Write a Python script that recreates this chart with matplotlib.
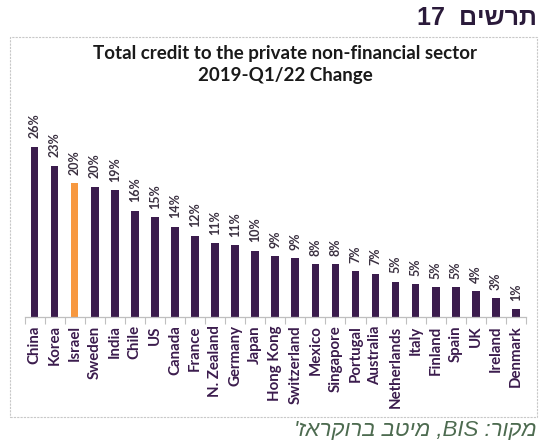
import matplotlib
matplotlib.use("Agg")
import matplotlib.pyplot as plt
from matplotlib.patches import Rectangle

countries = ["China", "Korea", "Israel", "Sweden", "India", "Chile", "US", "Canada",
             "France", "N. Zealand", "Germany", "Japan", "Hong Kong", "Switzerland",
             "Mexico", "Singapore", "Portugal", "Australia", "Netherlands", "Italy",
             "Finland", "Spain", "UK", "Ireland", "Denmark"]
values = [26.0, 23.1, 20.4, 19.9, 19.3, 16.2, 15.2, 13.8, 12.4, 11.3, 11.0, 10.1,
          9.3, 9.0, 8.1, 8.1, 7.0, 6.6, 5.4, 5.0, 4.6, 4.6, 3.9, 2.9, 1.2]
labels = ["26%", "23%", "20%", "20%", "19%", "16%", "15%", "14%", "12%", "11%", "11%", "10%",
          "9%", "9%", "8%", "8%", "7%", "7%", "5%", "5%", "5%", "5%", "4%", "3%", "1%"]
highlight = "Israel"

title1 = "Total credit to the private non-financial sector"
title2 = "2019-Q1/22 Change"
heb_title = "17  םישרת"          # visual order of "תרשים 17"
source = "'זארקורב בטימ ,BIS :רוקמ"  # visual order of "מקור: BIS, מיטב ברוקראז'"

W, H = 540, 443
fig = plt.figure(figsize=(W / 100, H / 100), dpi=100)
fig.patch.set_facecolor("white")

# frame box
fig.patches.append(Rectangle((10 / W, 1 - 417 / H), 527 / W, (417 - 37) / H,
                             transform=fig.transFigure, fill=False,
                             edgecolor="#c8c8c8", linewidth=0.8, linestyle=(0, (2, 1))))

purple = "#3b1c4d"
orange = "#f7983f"

ax = fig.add_axes([24.5 / W, 126 / H, (526 - 24.5) / W, 217 / H])
x = list(range(len(countries)))
colors = [orange if c == highlight else purple for c in countries]
ax.bar(x, values, width=0.38, color=colors, zorder=2)
ax.set_xlim(-0.5, len(countries) - 0.5)
ax.set_ylim(0, 33.1)

for xi, v, lab in zip(x, values, labels):
    ax.annotate(lab, (xi, v), xytext=(0, 6), textcoords="offset points",
                rotation=90, ha="center", va="bottom", fontsize=9,
                fontweight="bold", color="#3a3040", family="Lato")

for s in ["top", "right", "left"]:
    ax.spines[s].set_visible(False)
ax.spines["bottom"].set_color("#bfbfbf")
ax.spines["bottom"].set_linewidth(0.9)
ax.set_yticks([])
ax.set_xticks(x)
ax.set_xticklabels(countries, rotation=90, fontsize=10.8, fontweight="bold",
                   color=purple, family="Lato")
ax.tick_params(axis="x", which="major", length=0, pad=6)
ax.set_xticks([i - 0.5 for i in range(len(countries) + 1)], minor=True)
ax.tick_params(axis="x", which="minor", length=5, color="#bfbfbf", width=0.8)

fig.text(285 / W, 1 - 53 / H, title1, ha="center", va="center",
         fontsize=13.5, fontweight="bold", color="#1a1a1a", family="Lato")
fig.text(285 / W, 1 - 75 / H, title2, ha="center", va="center",
         fontsize=13.5, fontweight="bold", color="#1a1a1a", family="Lato")

fig.text(537 / W, 1 - 18 / H, heb_title, ha="right", va="center",
         fontsize=18, fontweight="bold", color="#2a1a3a", family="Liberation Sans")
fig.text(537 / W, 1 - 431 / H, source, ha="right", va="center",
         fontsize=16, style="italic", color="#4d6b50", family="Liberation Sans")

fig.savefig("out.png", dpi=100, facecolor="white")
